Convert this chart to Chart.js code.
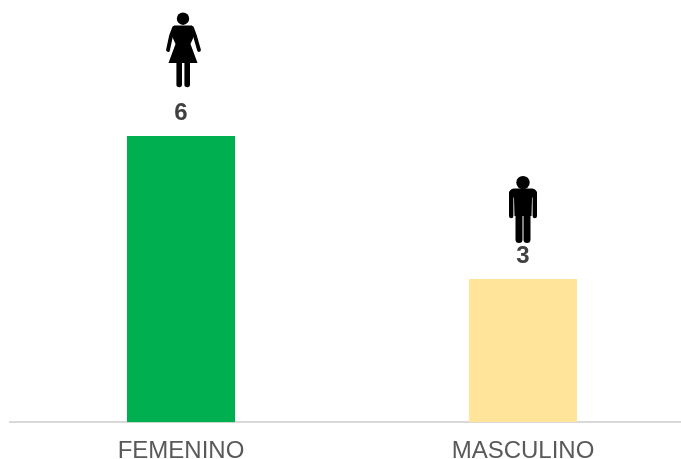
<!DOCTYPE html>
<html>
<head>
<meta charset="utf-8">
<style>
html,body{margin:0;padding:0;background:#fff;overflow:hidden;width:681px;height:459px}
#wrap{position:absolute;left:0;top:0;width:694px;height:481px}
</style>
<script src="https://cdn.jsdelivr.net/npm/chart.js@4"></script>
</head>
<body>
<div id="wrap"><canvas id="c" width="694" height="481"></canvas></div>
<script>
const categories = ["FEMENINO", "MASCULINO"];
const values = [6, 3];
const barColors = ["#00B050", "#FFE499"];
const icons = ["woman", "man"];

function limb(ctx, pts, w) {
  ctx.lineWidth = w; ctx.lineCap = "round"; ctx.lineJoin = "round";
  ctx.beginPath();
  pts.forEach((p, i) => i ? ctx.lineTo(p[0], p[1]) : ctx.moveTo(p[0], p[1]));
  ctx.stroke();
}
function drawWoman(ctx) {
  ctx.beginPath(); ctx.arc(-0.5, 5.7, 6.2, 0, Math.PI * 2); ctx.fill();
  ctx.beginPath();
  ctx.moveTo(-9.5, 12.5); ctx.lineTo(8.5, 12.5);
  ctx.lineTo(11, 22); ctx.lineTo(7, 31);
  ctx.lineTo(14, 50); ctx.lineTo(-15, 50);
  ctx.lineTo(-8, 31); ctx.lineTo(-12, 22);
  ctx.closePath(); ctx.fill();
  limb(ctx, [[-9.5, 15], [-12.5, 23], [-15.5, 37]], 3.8);
  limb(ctx, [[8.5, 15], [11.5, 23], [15.5, 37]], 3.8);
  limb(ctx, [[-4.3, 48], [-4.3, 71.5]], 5.6);
  limb(ctx, [[3.7, 48], [3.7, 71.5]], 5.6);
}
function drawMan(ctx) {
  ctx.beginPath(); ctx.arc(0, 6.5, 6.7, 0, Math.PI * 2); ctx.fill();
  ctx.beginPath();
  ctx.moveTo(-9, 12.5); ctx.lineTo(9, 12.5);
  ctx.quadraticCurveTo(14, 13, 14, 18);
  ctx.lineTo(9, 22); ctx.lineTo(8.5, 40); ctx.lineTo(-8.5, 40); ctx.lineTo(-9, 22); ctx.lineTo(-14, 18);
  ctx.quadraticCurveTo(-14, 13, -9, 12.5);
  ctx.closePath(); ctx.fill();
  limb(ctx, [[-11.8, 17], [-11.8, 40]], 4.4);
  limb(ctx, [[11.8, 17], [11.8, 40]], 4.4);
  limb(ctx, [[-4, 36], [-4, 63.5]], 7);
  limb(ctx, [[4, 36], [4, 63.5]], 7);
}

const decorations = {
  id: "decorations",
  afterDatasetsDraw(chart) {
    const ctx = chart.ctx;
    const meta = chart.getDatasetMeta(0);
    meta.data.forEach((bar, i) => {
      ctx.save();
      ctx.fillStyle = "#404040";
      ctx.font = "bold 24px 'Liberation Sans', Arial, sans-serif";
      ctx.textAlign = "center";
      ctx.textBaseline = "middle";
      ctx.fillText(String(values[i]), bar.x, bar.y - 23);
      ctx.restore();
      ctx.save();
      ctx.fillStyle = "#000"; ctx.strokeStyle = "#000";
      if (icons[i] === "woman") {
        ctx.translate(bar.x + 2.5, bar.y - 123);
        drawWoman(ctx);
      } else {
        ctx.translate(bar.x, bar.y - 103);
        drawMan(ctx);
      }
      ctx.restore();
    });
  }
};

new Chart(document.getElementById("c"), {
  type: "bar",
  data: {
    labels: categories,
    datasets: [{
      data: values,
      backgroundColor: barColors,
      borderWidth: 0,
      barPercentage: 1,
      categoryPercentage: 0.316
    }]
  },
  options: {
    responsive: false,
    animation: false,
    devicePixelRatio: 1,
    layout: { padding: { left: 10, right: 0, top: 136, bottom: 0 } },
    plugins: { legend: { display: false }, tooltip: { enabled: false } },
    scales: {
      x: {
        grid: { display: false, drawTicks: false },
        border: { display: true, color: "#D9D9D9", width: 2 },
        ticks: {
          color: "#595959",
          font: { family: "'Liberation Sans', Arial, sans-serif", size: 24 },
          padding: 15,
          maxRotation: 0
        }
      },
      y: {
        display: false,
        min: 0,
        max: 6
      }
    }
  },
  plugins: [decorations]
});
</script>
</body>
</html>
